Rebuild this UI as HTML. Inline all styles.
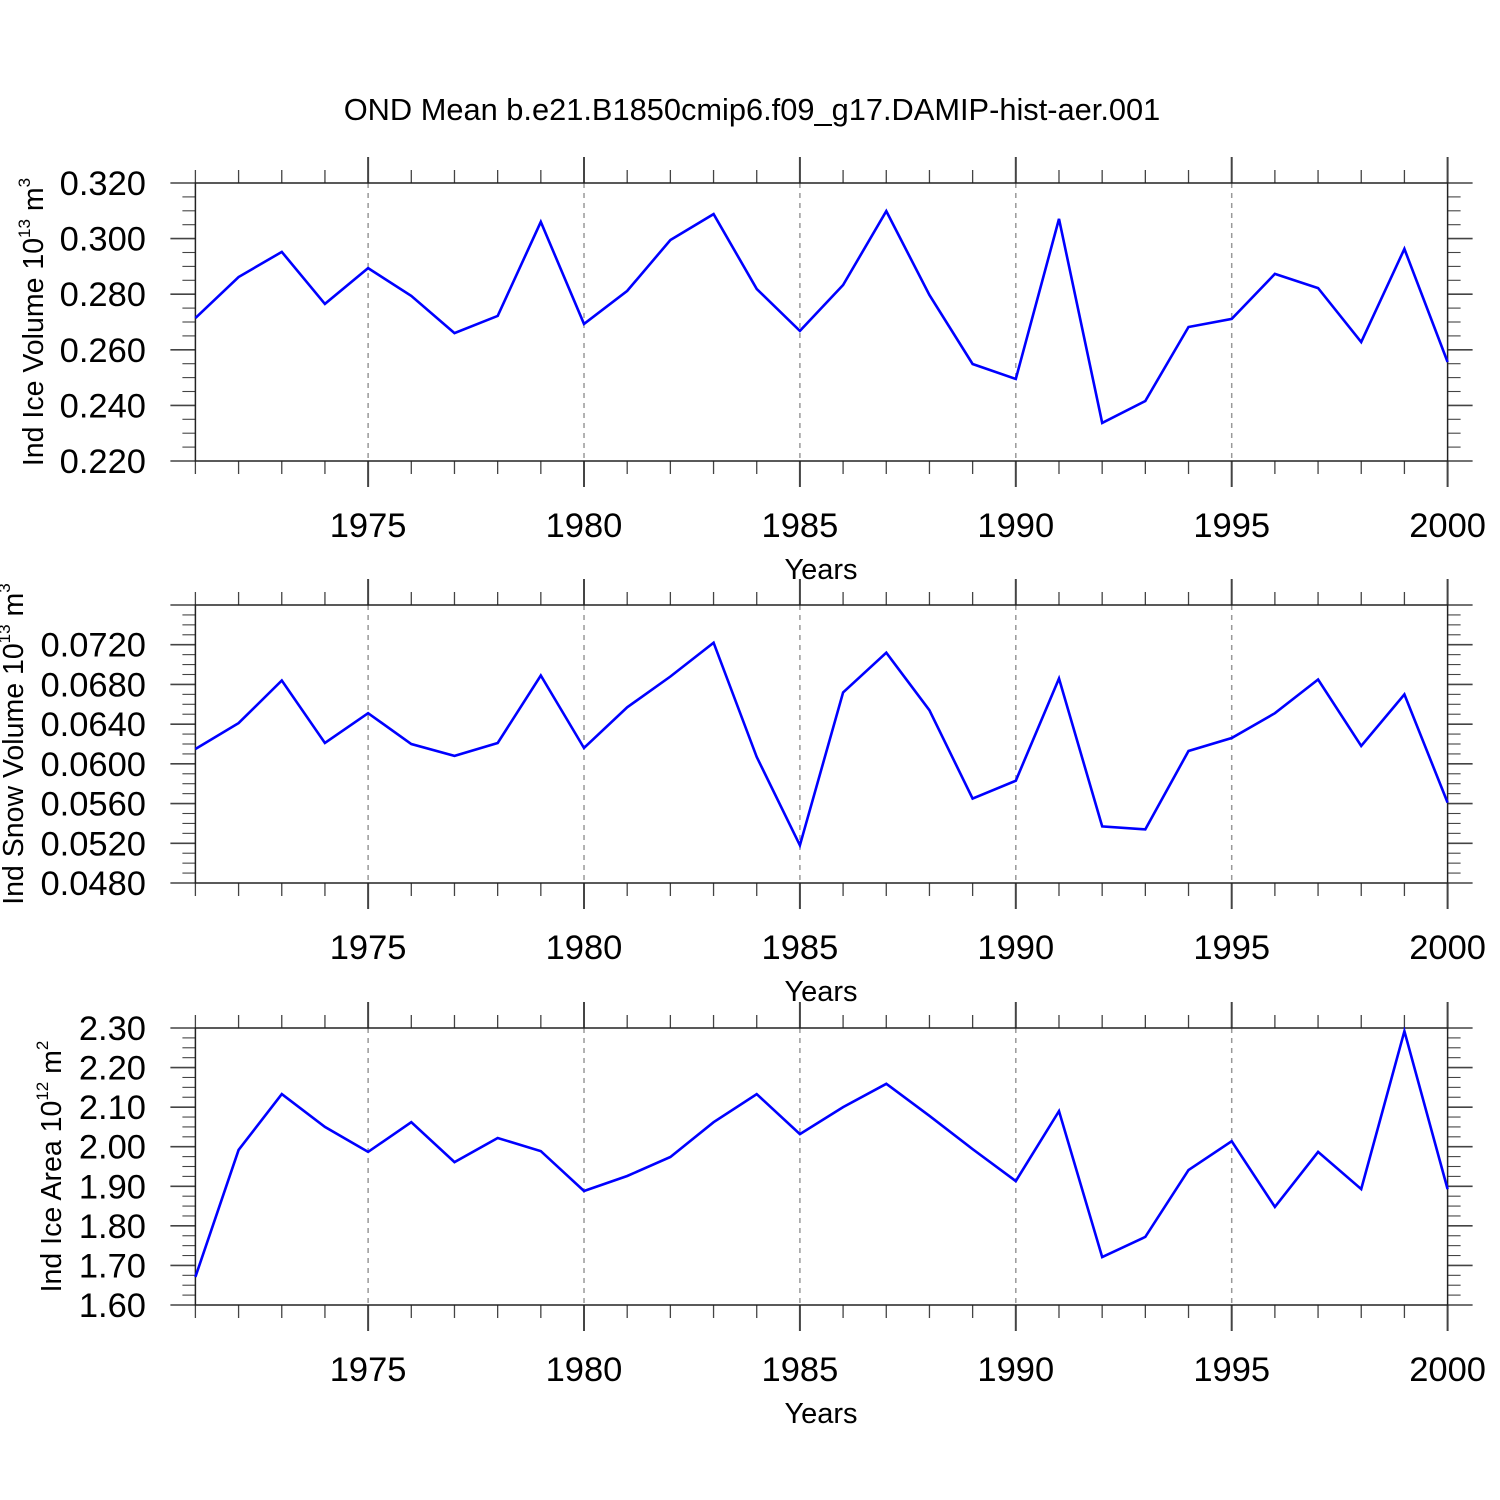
<!DOCTYPE html>
<html><head><meta charset="utf-8"><style>
html,body{margin:0;padding:0;background:#fff;}
svg{display:block;font-family:"Liberation Sans",Arial,sans-serif;}
</style></head><body>
<svg id="chart" width="1500" height="1500" viewBox="0 0 1500 1500" xmlns="http://www.w3.org/2000/svg">
<text x="752" y="120" font-size="30.8" text-anchor="middle" fill="#000">OND Mean b.e21.B1850cmip6.f09_g17.DAMIP-hist-aer.001</text>
</svg>
<script>
const years = [1971,1972,1973,1974,1975,1976,1977,1978,1979,1980,1981,1982,1983,1984,1985,1986,1987,1988,1989,1990,1991,1992,1993,1994,1995,1996,1997,1998,1999,2000];
const iceVolume = [0.2714,0.2862,0.2952,0.2765,0.2894,0.2794,0.2660,0.2722,0.3060,0.2693,0.2812,0.2995,0.3088,0.2819,0.2668,0.2833,0.3099,0.2797,0.2549,0.2495,0.3071,0.2337,0.2416,0.2682,0.2711,0.2873,0.2822,0.2628,0.2963,0.2556];
const snowVolume = [0.0615,0.0641,0.0684,0.0621,0.0651,0.0620,0.0608,0.0621,0.0689,0.0616,0.0657,0.0688,0.0722,0.0607,0.0518,0.0672,0.0712,0.0654,0.0565,0.0583,0.0686,0.0537,0.0534,0.0613,0.0626,0.0651,0.0685,0.0618,0.0670,0.0561];
const iceArea = [1.671,1.992,2.133,2.050,1.987,2.062,1.961,2.022,1.989,1.888,1.926,1.974,2.062,2.133,2.032,2.100,2.159,2.078,1.994,1.913,2.090,1.721,1.772,1.941,2.014,1.848,1.987,1.893,2.292,1.893];
const xTickYears = [1975,1980,1985,1990,1995,2000];
const iceVolTicks = ["0.220","0.240","0.260","0.280","0.300","0.320"];
const snowVolTicks = ["0.0480","0.0520","0.0560","0.0600","0.0640","0.0680","0.0720"];
const iceAreaTicks = ["1.60","1.70","1.80","1.90","2.00","2.10","2.20","2.30"];

const NS="http://www.w3.org/2000/svg";
const svg=document.getElementById('chart');
const X0=195.4, X1=1447.6;
function xs(yr){return X0+(yr-1971)/(2000-1971)*(X1-X0);}
function mk(tag,attrs,parent){const e=document.createElementNS(NS,tag);for(const k in attrs)e.setAttribute(k,attrs[k]);(parent||svg).appendChild(e);return e;}

const panels=[
 {name:'ice-volume',top:183,bot:461,min:0.22,max:0.32,major:0.02,minorN:4,labels:iceVolTicks,data:iceVolume,title:'Ind Ice Volume 10',sup:'13',unit:' m',usup:'3',tx:33},
 {name:'snow-volume',top:605,bot:883,min:0.048,max:0.076,major:0.004,minorN:4,labels:snowVolTicks,data:snowVolume,title:'Ind Snow Volume 10',sup:'13',unit:' m',usup:'3',tx:13},
 {name:'ice-area',top:1028,bot:1305,min:1.6,max:2.3,major:0.1,minorN:4,labels:iceAreaTicks,data:iceArea,title:'Ind Ice Area 10',sup:'12',unit:' m',usup:'2',tx:51}
];

panels.forEach(p=>{
 const g=mk('g',{});
 
 
 const ys=v=>p.bot-(v-p.min)/(p.max-p.min)*(p.bot-p.top);
 xTickYears.forEach(yr=>{
  if(yr===2000)return;
  const l=mk('line',{x1:xs(yr),x2:xs(yr),y1:p.top,y2:p.bot,stroke:'#999','stroke-width':1.5,'stroke-dasharray':'5,5'},g);
  
  
 });
 for(let yr=1971;yr<=2000;yr++){
  const maj=yr%5===0;
  const x=xs(yr);
  mk('line',{x1:x,x2:x,y1:p.top-(maj?26:13),y2:p.top,stroke:'#444','stroke-width':maj?2:1.3},g);
  mk('line',{x1:x,x2:x,y1:p.bot,y2:p.bot+(maj?26:13),stroke:'#444','stroke-width':maj?2:1.3},g);
 }
 const nMaj=Math.round((p.max-p.min)/p.major);
 for(let i=0;i<=nMaj*p.minorN;i++){
  const v=p.min+i*p.major/p.minorN;
  const y=ys(v);
  const maj=i%p.minorN===0;
  const len=maj?25:13;
  mk('line',{x1:X0-len,x2:X0,y1:y,y2:y,stroke:'#444','stroke-width':maj?1.6:1.1},g);
  mk('line',{x1:X1,x2:X1+len,y1:y,y2:y,stroke:'#444','stroke-width':maj?1.6:1.1},g);
 }
 const fr=mk('rect',{x:X0,y:p.top,width:X1-X0,height:p.bot-p.top,fill:'none',stroke:'#222','stroke-width':1.5},g);
 
 
 p.labels.forEach((lab,i)=>{
  const t=mk('text',{x:146,y:ys(p.min+i*p.major)+12,'font-size':34.5,'text-anchor':'end',fill:'#000'},g);
  t.textContent=lab;
  
  
 });
 xTickYears.forEach(yr=>{
  const t=mk('text',{x:xs(yr),y:p.bot+76,'font-size':34.5,'text-anchor':'middle',fill:'#000'},g);
  t.textContent=String(yr);
  
  
 });
 const xt=mk('text',{x:821,y:p.bot+118,'font-size':29,'text-anchor':'middle',fill:'#000'},g);
 xt.textContent='Years';
 
 
 const cy=(p.top+p.bot)/2;
 const yt=mk('text',{x:0,y:0,'font-size':28.5,'text-anchor':'middle',fill:'#000',transform:`translate(${p.tx+10},${cy}) rotate(-90)`},g);
 
 
 const t1=document.createElementNS(NS,'tspan');t1.textContent=p.title;yt.appendChild(t1);
 const t2=document.createElementNS(NS,'tspan');t2.setAttribute('dy','-13');t2.setAttribute('font-size','17');t2.textContent=p.sup;yt.appendChild(t2);
 const t3=document.createElementNS(NS,'tspan');t3.setAttribute('dy','13');t3.textContent=p.unit;yt.appendChild(t3);
 const t4=document.createElementNS(NS,'tspan');t4.setAttribute('dy','-13');t4.setAttribute('font-size','17');t4.textContent=p.usup;yt.appendChild(t4);
 const pts=p.data.map((v,i)=>xs(years[i]).toFixed(1)+','+ys(v).toFixed(1)).join(' ');
 const pl=mk('polyline',{points:pts,fill:'none',stroke:'#0000ff','stroke-width':2.6,'stroke-linejoin':'miter'},g);
 
 
});
</script>
</body></html>
